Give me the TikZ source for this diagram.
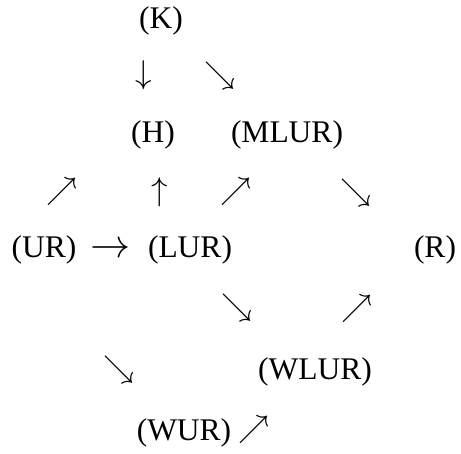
\RequirePackage{fix-cm}
\documentclass[tikz,border=0pt]{standalone}
\usepackage{fontspec}
\setmainfont{Liberation Serif}
\begin{document}
\begin{tikzpicture}[x=1pt,y=-1pt,
  lbl/.style={inner sep=0pt,anchor=center,font=\fontsize{31.5}{37}\selectfont},
  arr/.style={inner sep=0pt,anchor=center,font=\fontsize{31}{37}\selectfont},
  varr/.style={inner sep=0pt,anchor=center,font=\fontsize{33}{39}\selectfont},
  harr/.style={inner sep=0pt,anchor=center,font=\fontsize{40}{46}\selectfont}]
\useasboundingbox (0,0) rectangle (461,454);
\node[lbl] (K) at (161,21) {(K)};
\node[varr] (a1) at (144,75) {$\downarrow$};
\node[arr] (a2) at (220,76) {$\searrow$};
\node[lbl] (H) at (153,135) {(H)};
\node[lbl] (MLUR) at (287,135) {(MLUR)};
\node[arr] (a3) at (62,192) {$\nearrow$};
\node[varr] (a4) at (160,192) {$\uparrow$};
\node[arr] (a5) at (236,192) {$\nearrow$};
\node[arr] (a6) at (356,193) {$\searrow$};
\node[lbl] (UR) at (44,250) {(UR)};
\node[harr] (a7) at (110,250) {$\rightarrow$};
\node[lbl] (LUR) at (190,250) {(LUR)};
\node[lbl] (R) at (435,250) {(R)};
\node[arr] (a8) at (237,308) {$\searrow$};
\node[arr] (a9) at (357,309) {$\nearrow$};
\node[arr] (a10) at (119,370) {$\searrow$};
\node[lbl] (WLUR) at (315,372) {(WLUR)};
\node[lbl] (WUR) at (184,433) {(WUR)};
\node[arr] (a11) at (254,430) {$\nearrow$};
\end{tikzpicture}
\end{document}
